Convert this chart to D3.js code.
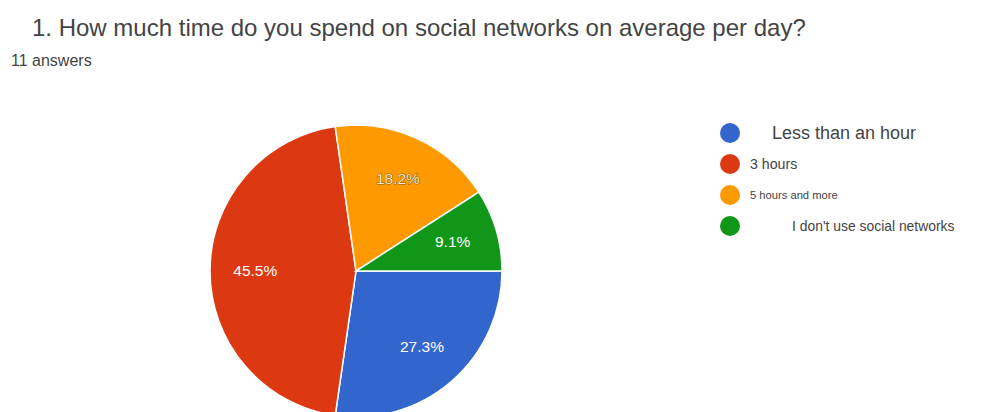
<!DOCTYPE html>
<html>
<head>
<meta charset="utf-8">
<script src="https://cdn.jsdelivr.net/npm/d3@7"></script>
<style>
  html, body { margin: 0; padding: 0; background: #fff; }
  svg { display: block; font-family: Arial, "Liberation Sans", sans-serif; }
</style>
</head>
<body>
<svg id="chart" width="988" height="412"></svg>
<script>
// Survey answers for question 1
const categories = ["Less than an hour", "3 hours", "5 hours and more", "I don't use social networks"];
const counts = [3, 5, 2, 1];
const colors = ["#3366cc", "#dc3912", "#ff9900", "#109618"];
const legendFontSizes = [18, 14.2, 11.2, 13.9];
const legendTextX = [772, 750, 750, 792];

const svg = d3.select("#chart");

svg.append("text")
  .attr("x", 32).attr("y", 36)
  .attr("font-size", 24).attr("fill", "#444")
  .text("1. How much time do you spend on social networks on average per day?");

svg.append("text")
  .attr("x", 11).attr("y", 66)
  .attr("font-size", 16).attr("fill", "#444")
  .text(`${d3.sum(counts)} answers`);

// Pie
const cx = 356, cy = 271, R = 146;
const total = d3.sum(counts);
const pie = d3.pie().sort(null).value(d => d)
  .startAngle(Math.PI / 2).endAngle(Math.PI / 2 + 2 * Math.PI);
const arcs = pie(counts);
const arc = d3.arc().innerRadius(0).outerRadius(R);
const labelArc = d3.arc().innerRadius(R * 0.69).outerRadius(R * 0.69);

const g = svg.append("g").attr("transform", `translate(${cx},${cy})`);
g.selectAll("path.slice").data(arcs).join("path")
  .attr("class", "slice")
  .attr("d", arc)
  .attr("fill", (d, i) => colors[i])
  .attr("stroke", "#fff").attr("stroke-width", 1.5);

const fmt = d3.format(".1%");
g.selectAll("text.pct").data(arcs).join("text")
  .attr("class", "pct")
  .attr("transform", d => `translate(${labelArc.centroid(d)})`)
  .attr("text-anchor", "middle").attr("dy", "0.3em")
  .attr("font-size", 15.5)
  .attr("fill", (d, i) => i === 2 ? "#fbe6bd" : "#fff")
  .attr("stroke", (d, i) => i === 2 ? "#8a5a12" : "none")
  .attr("stroke-width", 1)
  .attr("paint-order", "stroke")
  .text(d => fmt(d.value / total));

// Legend
const legendY = [133, 164, 195, 226];
const lg = svg.append("g");
categories.forEach((c, i) => {
  lg.append("circle")
    .attr("cx", 730).attr("cy", legendY[i]).attr("r", 10)
    .attr("fill", colors[i]);
  lg.append("text")
    .attr("x", legendTextX[i]).attr("y", legendY[i])
    .attr("dy", "0.35em")
    .attr("font-size", legendFontSizes[i]).attr("fill", "#444")
    .text(c);
});
</script>
</body>
</html>
